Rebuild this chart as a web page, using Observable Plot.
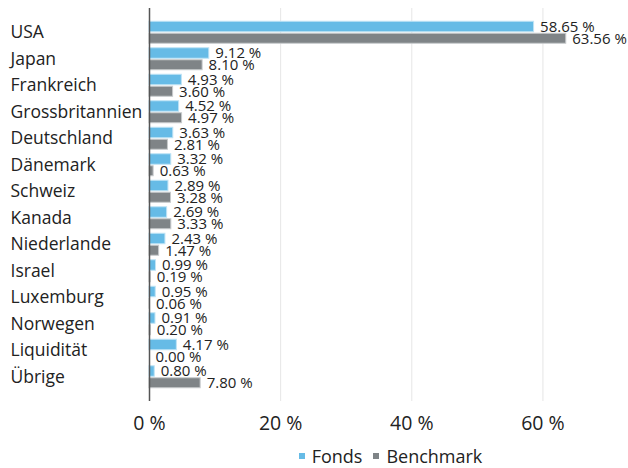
<!DOCTYPE html>
<html>
<head>
<meta charset="utf-8">
<script src="https://cdn.jsdelivr.net/npm/d3@7"></script>
<script src="https://cdn.jsdelivr.net/npm/@observablehq/plot@0.6"></script>
<style>
  html, body { margin: 0; padding: 0; background: #fff; }
  body { width: 628px; height: 468px; overflow: hidden; font-family: "Open Sans", "Noto Sans", sans-serif; }
  #chart svg { display: block; }
  #legend { position: relative; height: 28px; margin-left: 151px; width: 479px; display: flex; justify-content: center; align-items: center; gap: 11px; font-size: 18px; color: #222; padding-top: 2px; }
  #legend .item { display: flex; align-items: center; gap: 7px; }
  #legend .sw { width: 6px; height: 6px; display: inline-block; }
</style>
</head>
<body>
<div id="chart"></div>
<div id="legend"></div>
<script>
const countries = ["USA","Japan","Frankreich","Grossbritannien","Deutschland","Dänemark","Schweiz","Kanada","Niederlande","Israel","Luxemburg","Norwegen","Liquidität","Übrige"];
const fonds     = [58.65, 9.12, 4.93, 4.52, 3.63, 3.32, 2.89, 2.69, 2.43, 0.99, 0.95, 0.91, 4.17, 0.80];
const benchmark = [63.56, 8.10, 3.60, 4.97, 2.81, 0.63, 3.28, 3.33, 1.47, 0.19, 0.06, 0.20, 0.00, 7.80];
const seriesNames = ["Fonds", "Benchmark"];
const seriesColors = ["#66bbe6", "#7f8487"];
const xTicks = [0, 20, 40, 60];

const fondsData = countries.map((c, i) => ({country: c, value: fonds[i]}));
const benchData = countries.map((c, i) => ({country: c, value: benchmark[i]}));
const fmt = v => v.toFixed(2) + " %";

const chart = Plot.plot({
  width: 628,
  height: 440,
  marginLeft: 149,
  marginRight: 20,
  marginTop: 8,
  marginBottom: 39,
  style: {fontFamily: "'Open Sans', 'Noto Sans', sans-serif", background: "#fff", color: "#222"},
  x: {domain: [0, 70], label: null},
  y: {domain: countries, paddingInner: 0.17, paddingOuter: 0.5, round: false, label: null},
  marks: [
    Plot.ruleX(xTicks.filter(d => d > 0), {stroke: "#e6e6e6", strokeWidth: 1}),
    Plot.barX(fondsData, {x: "value", y: "country", fill: seriesColors[0], stroke: "#bfe3f5", strokeWidth: 1, insetBottom: 11.5, insetTop: 0}),
    Plot.barX(benchData, {x: "value", y: "country", fill: seriesColors[1], stroke: "#c7cacc", strokeWidth: 1, insetTop: 12, insetBottom: 0}),
    Plot.ruleX([0], {stroke: "#555", strokeWidth: 1.5}),
    Plot.text(fondsData, {x: "value", y: "country", text: d => fmt(d.value), textAnchor: "start", dx: 6, dy: -6, fontSize: 15, fill: "#222"}),
    Plot.text(benchData, {x: "value", y: "country", text: d => fmt(d.value), textAnchor: "start", dx: 6, dy: 6, fontSize: 15, fill: "#222"}),
    Plot.axisX({ticks: xTicks, tickFormat: d => d + " %", tickSize: 0, tickPadding: 15, fontSize: 19.5, label: null}),
    Plot.axisY({tickSize: 0, tickPadding: 139, textAnchor: "start", fontSize: 17.5, label: null})
  ]
});
document.getElementById("chart").appendChild(chart);

const legend = document.getElementById("legend");
seriesNames.forEach((name, i) => {
  const item = document.createElement("span");
  item.className = "item";
  const sw = document.createElement("span");
  sw.className = "sw";
  sw.style.background = seriesColors[i];
  const t = document.createElement("span");
  t.textContent = name;
  item.appendChild(sw);
  item.appendChild(t);
  legend.appendChild(item);
});
</script>
</body>
</html>
